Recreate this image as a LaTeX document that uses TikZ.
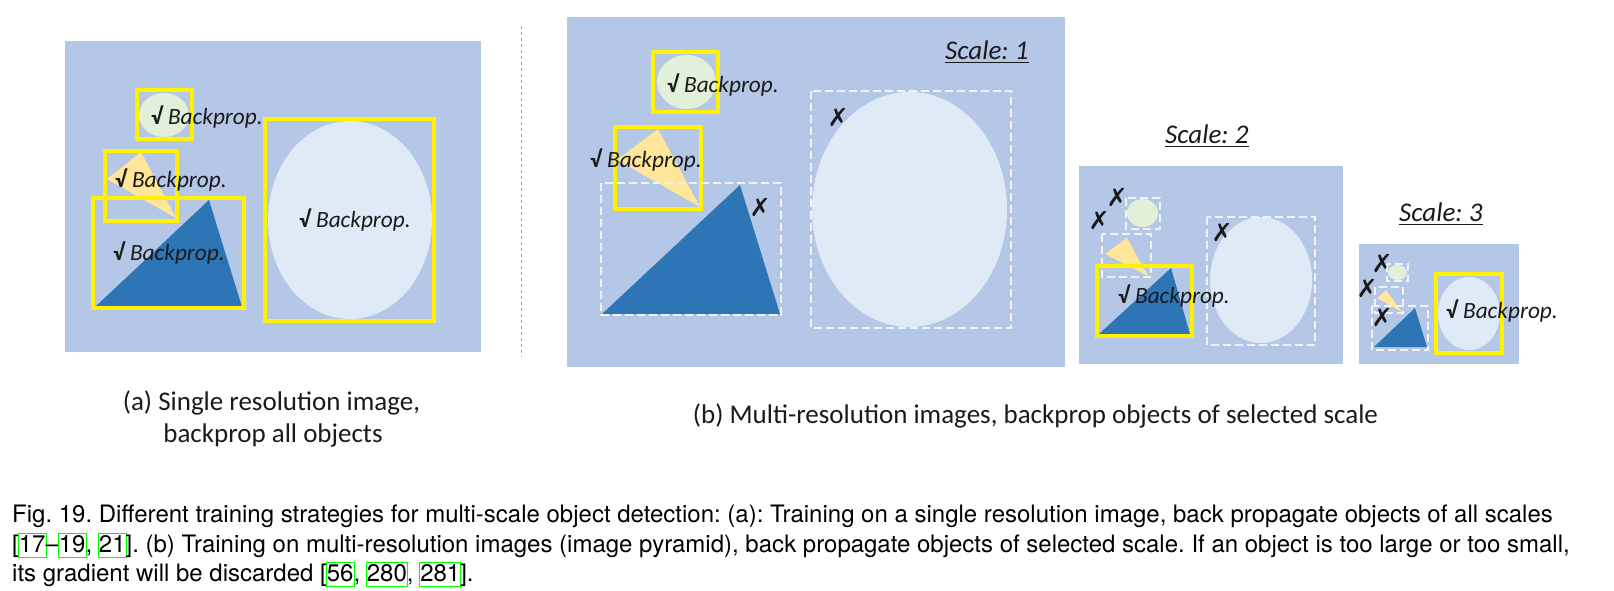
\documentclass[tikz,border=0pt]{standalone}
\usepackage{fontspec}
\setmainfont{Carlito}
\newfontfamily\capfont{TeX Gyre Heros}
\newfontfamily\symfont{DejaVu Sans}
\definecolor{panelblue}{HTML}{B4C7E7}
\definecolor{ellblue}{HTML}{DEEBF7}
\definecolor{ellgreen}{HTML}{E2F0D9}
\definecolor{triyellow}{HTML}{FFE699}
\definecolor{triblue}{HTML}{2E75B6}
\definecolor{dashwhite}{HTML}{F2F2F2}
\definecolor{inkblack}{HTML}{1A1A1A}
\definecolor{linkgreen}{HTML}{00FF00}
\newcommand\lk[1]{\leavevmode\rlap{\hspace{-1pt}\color{linkgreen}\setlength\fboxsep{0pt}\setlength\fboxrule{1pt}\fbox{\phantom{#1}\rule[-0.22em]{0pt}{0.95em}}}#1}
\frenchspacing
\begin{document}
\begin{tikzpicture}[x=1pt,y=-1pt,
  panel/.style={fill=panelblue},
  ybox/.style={draw=yellow,line width=3.3},
  wbox/.style={draw=dashwhite,line width=2.2,dash pattern=on 8 off 4},
  bp/.style={anchor=base west,inner sep=0,text=inkblack,font=\fontsize{23.3}{28}\selectfont\itshape},
  xm/.style={inner sep=0,text=inkblack,font=\symfont\fontsize{25}{28}\selectfont},
  sclabel/.style={anchor=base west,inner sep=0,text=inkblack,font=\fontsize{27}{32}\selectfont\itshape},
  subcap/.style={anchor=base,inner sep=0,text=inkblack,font=\fontsize{27}{32}\selectfont},
  figcap/.style={anchor=base west,inner sep=0,text=black,font=\capfont\fontsize{24}{28}\selectfont},
  uline/.style={line width=1.6,draw=inkblack}]
\useasboundingbox (0,0) rectangle (1614,590);
\newcommand\chk{{\bfseries\upshape √}}
% ---------------- panel (a)
\fill[panel] (65,41) rectangle (481,352);
\fill[ellgreen] (164,115) ellipse [x radius=25,y radius=22];
\fill[triyellow] (141,152) -- (107,179) -- (176,218) -- cycle;
\fill[triblue] (209,200) -- (95,307) -- (242,307) -- cycle;
\fill[ellblue] (350,220) ellipse [x radius=82,y radius=99];
\draw[ybox] (137,90) rectangle (192,139);
\draw[ybox] (105,151) rectangle (177,221);
\draw[ybox] (93,198) rectangle (244,308);
\draw[ybox] (265,119) rectangle (434,321);
\node[bp] (a1) at (151,124) {\chk{} Backprop.};
\node[bp] (a2) at (115,187) {\chk{} Backprop.};
\node[bp] (a3) at (113,260) {\chk{} Backprop.};
\node[bp] (a4) at (299,227) {\chk{} Backprop.};
% separator
\draw[gray!70,line width=1,dash pattern=on 3 off 3] (521,26) -- (521,357);
% ---------------- panel (b) scale 1
\fill[panel] (567,17) rectangle (1065,367);
\fill[ellgreen] (686.5,82) ellipse [x radius=29.5,y radius=27];
\fill[triyellow] (658,129) -- (617,160) -- (700,207) -- cycle;
\fill[triblue] (740,185) -- (602,314) -- (780,314) -- cycle;
\fill[ellblue] (909.5,209.5) ellipse [x radius=97.5,y radius=117.5];
\draw[ybox] (653,52) rectangle (718,112);
\draw[ybox] (615,127) rectangle (701,209);
\draw[wbox] (601,183) rectangle (781,315);
\draw[wbox] (811,91) rectangle (1011,328);
\node[bp] (b1t1) at (667,92) {\chk{} Backprop.};
\node[bp] (b1t2) at (590,167) {\chk{} Backprop.};
\node[xm] (b1x1) at (760,207) {✗};
\node[xm] (b1x2) at (838,117) {✗};
\node[sclabel] (s1) at (945,59) {Scale: 1};
\draw[uline] ([yshift=-3.5]s1.base west) -- ([yshift=-3.5]s1.base east);
% ---------------- scale 2
\fill[panel] (1079,166) rectangle (1343,364);
\fill[ellgreen] (1142.5,213) ellipse [x radius=15.5,y radius=14];
\fill[triyellow] (1127,238) -- (1105,254) -- (1148,276) -- cycle;
\fill[triblue] (1171,268) -- (1099,334) -- (1190,334) -- cycle;
\fill[ellblue] (1261,280) ellipse [x radius=51,y radius=63];
\draw[wbox] (1126,198) rectangle (1160,229);
\draw[wbox] (1102,234) rectangle (1151,277);
\draw[wbox] (1207,217) rectangle (1315,345);
\draw[ybox] (1097,266) rectangle (1192,336);
\node[bp] (b2t) at (1118,303) {\chk{} Backprop.};
\node[xm] (b2x1) at (1117,197) {✗};
\node[xm] (b2x2) at (1099,220) {✗};
\node[xm] (b2x3) at (1222,232) {✗};
\node[sclabel] (s2) at (1165,143) {Scale: 2};
\draw[uline] ([yshift=-3.5]s2.base west) -- ([yshift=-3.5]s2.base east);
% ---------------- scale 3
\fill[panel] (1359,244) rectangle (1519,364);
\fill[ellgreen] (1397.5,272.5) ellipse [x radius=9.5,y radius=7.5];
\fill[triyellow] (1386,290) -- (1377,298) -- (1402,312) -- cycle;
\fill[triblue] (1415,308) -- (1374,347) -- (1427,347) -- cycle;
\fill[ellblue] (1469,313.5) ellipse [x radius=31,y radius=36.5];
\draw[wbox] (1387,264) rectangle (1408,281);
\draw[wbox] (1375,287) rectangle (1403,313);
\draw[wbox] (1372,306) rectangle (1428,350);
\draw[ybox] (1436,274) rectangle (1502,353);
\node[bp] (b3t) at (1446,318) {\chk{} Backprop.};
\node[xm] (b3x1) at (1382,263) {✗};
\node[xm] (b3x2) at (1367,288) {✗};
\node[xm] (b3x3) at (1382,317) {✗};
\node[sclabel] (s3) at (1399,221) {Scale: 3};
\draw[uline] ([yshift=-3.5]s3.base west) -- ([yshift=-3.5]s3.base east);
% ---------------- captions
\node[subcap] (capa1) at (271.5,410) {(a) Single resolution image,};
\node[subcap] (capa2) at (273,442) {backprop all objects};
\node[subcap] (capb) at (1035.5,423) {(b) Multi-resolution images, backprop objects of selected scale};
\node[figcap] (fig1) at (12,522) {Fig. 19. Different training strategies for multi-scale object detection: (a): Training on a single resolution image, back propagate objects of all scales};
\node[figcap] (fig2) at (12,552) {[\lk{17}–\lk{19}, \lk{21}]. (b) Training on multi-resolution images (image pyramid), back propagate objects of selected scale. If an object is too large or too small,};
\node[figcap] (fig3) at (12,581) {its gradient will be discarded [\lk{56}, \lk{280}, \lk{281}].};
\end{tikzpicture}
\end{document}
